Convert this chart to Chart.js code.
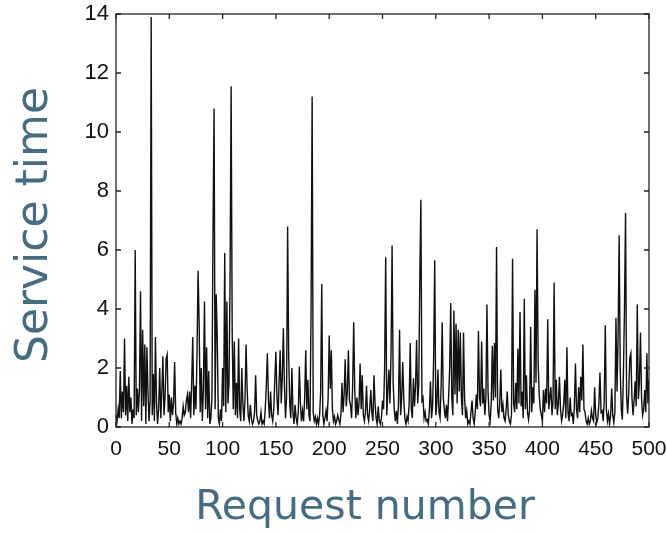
<!DOCTYPE html>
<html>
<head>
<meta charset="utf-8">
<script src="https://cdn.jsdelivr.net/npm/chart.js@4.4.0/dist/chart.umd.min.js"></script>
<style>
html,body{margin:0;padding:0;background:#fff;}
</style>
</head>
<body>
<canvas id="c" width="667" height="533"></canvas>
<script>
// service time per request (request 0..500)
const serviceTimes = [
  0.4,0.2,0.6,0.3,1.9,0.3,1.2,0.5,3.0,0.4, 1.4,0.2,1.7,0.5,1.0,0.1,0.6,0.3,6.0,0.4,
  1.3,0.5,1.3,4.6,0.2,3.3,0.7,2.8,0.1,2.7, 1.2,0.2,0.9,13.9,0.4,1.8,0.2,3.05,0.8,0.1,
  0.6,2.0,0.3,1.2,2.4,0.4,1.0,2.3,2.45,0.5, 1.1,0.2,1.0,0.4,0.8,2.2,0.5,0.1,0.3,0.1,
  0.2,0.1,0.3,0.7,0.4,0.5,0.9,1.1,0.5,1.2, 0.3,1.5,3.05,0.4,1.4,0.6,2.5,5.3,3.5,0.5,
  2.0,0.2,1.3,4.25,0.6,2.7,0.3,1.9,0.1,0.3, 1.0,6.6,10.8,0.6,4.5,3.0,0.3,0.1,0.6,0.2,
  2.0,0.7,5.9,0.5,4.25,0.8,1.5,5.0,11.55,3.2, 0.6,2.9,0.4,1.5,0.3,3.0,0.6,0.2,2.0,0.8,
  0.2,0.9,2.8,1.3,0.4,0.2,0.75,0.3,0.1,0.2, 0.5,1.75,0.4,0.2,0.1,0.2,0.5,0.1,0.2,0.1,
  0.6,1.4,2.5,0.9,0.3,1.2,0.4,0.2,0.6,1.6, 2.55,1.0,0.4,1.5,2.6,0.8,1.7,3.35,1.4,0.3,
  1.0,6.8,2.4,0.8,0.3,2.0,0.5,0.1,0.75,0.3, 0.1,0.5,2.05,0.8,0.2,0.55,0.2,1.0,2.6,0.6,
  1.6,0.4,0.2,4.0,11.2,0.5,0.2,0.35,0.1,0.3, 0.1,0.4,1.2,4.85,0.4,0.1,0.3,0.55,0.2,1.0,
  3.1,1.3,2.6,0.6,0.2,0.35,0.1,0.2,0.4,0.25, 0.1,0.4,1.5,0.5,1.1,2.3,0.7,1.2,2.6,0.9,
  0.75,0.3,1.4,3.55,1.2,0.3,1.0,0.4,0.8,2.15, 0.6,1.75,0.4,0.2,0.5,1.4,0.4,0.2,0.6,1.25,
  0.5,0.2,1.75,0.8,0.3,0.1,0.7,0.2,0.1,0.3, 0.9,0.6,2.0,5.75,0.4,1.2,1.95,0.8,2.5,6.15,
  1.5,0.6,0.2,0.55,0.1,0.8,3.3,0.4,1.0,2.2, 0.9,0.3,0.1,0.35,0.2,0.8,2.85,0.6,0.3,1.65,
  0.7,1.4,2.95,0.8,1.4,5.0,7.7,0.9,1.0,0.3, 0.5,0.2,0.25,0.1,0.6,1.55,0.3,0.7,2.4,5.65,
  0.4,0.8,1.95,0.5,0.3,1.4,3.55,1.0,0.6,0.3, 0.75,0.2,1.0,2.0,4.2,1.0,0.4,3.95,1.1,3.5,
  0.8,3.3,1.2,3.2,1.0,0.4,3.2,1.0,0.3,0.55, 0.1,0.2,0.1,0.5,0.9,0.3,0.1,0.5,1.1,0.6,
  3.25,1.0,0.7,2.9,0.8,1.3,0.4,1.0,4.15,1.2, 0.4,0.2,0.8,2.75,0.9,2.85,1.0,6.1,0.6,0.3,
  0.8,1.95,0.5,0.75,0.3,0.2,0.6,1.2,0.4,0.2, 0.1,0.4,5.7,0.8,0.5,1.5,0.6,2.65,0.8,3.9,
  0.7,1.2,0.3,4.35,0.6,1.75,0.5,0.25,0.6,3.4, 0.5,1.35,0.8,4.65,1.5,6.7,2.2,1.1,0.6,0.4,
  0.2,1.25,0.5,1.3,0.8,3.65,0.6,1.0,1.35,0.4, 0.9,4.9,0.6,1.6,0.4,0.8,1.7,0.6,0.2,0.4,
  0.8,1.6,0.3,2.7,0.5,0.2,1.0,0.4,0.45,0.1, 0.7,2.15,0.6,0.3,1.35,0.5,1.7,0.9,2.8,0.6,
  0.5,0.2,0.1,0.3,0.1,0.2,0.55,0.3,0.2,1.35, 0.4,0.15,0.3,0.8,1.85,0.5,0.55,0.2,0.9,3.45,
  0.6,0.2,0.45,0.1,0.4,1.3,0.4,0.15,0.5,3.7, 1.2,3.0,6.5,2.0,0.6,0.25,1.8,4.0,7.25,1.0,
  0.45,1.2,2.35,2.5,1.0,0.4,0.9,1.55,0.7,4.15, 0.95,1.5,3.2,1.0,0.4,0.6,1.25,0.5,2.5,0.8,
  1.6
];
const requestNumbers = serviceTimes.map((v, i) => i);
const xTicks = [0, 50, 100, 150, 200, 250, 300, 350, 400, 450, 500];
const yTicks = [0, 2, 4, 6, 8, 10, 12, 14];

const titleColor = '#476b80';
const titleFont = '"Comic Sans MS", "DejaVu Sans", sans-serif';

// matlab style box with inward ticks + the big axis captions
const framePlugin = {
  id: 'frame',
  afterDatasetsDraw(chart) {
    const { ctx, chartArea: a, scales: { x, y } } = chart;
    ctx.save();
    ctx.strokeStyle = '#222';
    ctx.lineWidth = 1.3;
    ctx.strokeRect(a.left, a.top, a.right - a.left, a.bottom - a.top);
    ctx.beginPath();
    xTicks.forEach(v => {
      const px = x.getPixelForValue(v);
      ctx.moveTo(px, a.bottom); ctx.lineTo(px, a.bottom - 5);
      ctx.moveTo(px, a.top); ctx.lineTo(px, a.top + 5);
    });
    yTicks.forEach(v => {
      const py = y.getPixelForValue(v);
      ctx.moveTo(a.left, py); ctx.lineTo(a.left + 5, py);
      ctx.moveTo(a.right, py); ctx.lineTo(a.right - 5, py);
    });
    ctx.stroke();

    ctx.fillStyle = titleColor;
    ctx.textAlign = 'center';
    ctx.textBaseline = 'middle';
    ctx.font = '41px ' + titleFont;
    ctx.fillText('Request number', 365, 508);
    ctx.translate(36, 225);
    ctx.rotate(-Math.PI / 2);
    ctx.font = '44px ' + titleFont;
    ctx.fillText('Service time', 0, 0);
    ctx.restore();
  }
};

new Chart(document.getElementById('c').getContext('2d'), {
  type: 'line',
  data: {
    labels: requestNumbers,
    datasets: [{
      data: requestNumbers.map((n, i) => ({ x: n, y: serviceTimes[i] })),
      borderColor: '#111',
      borderWidth: 1.4,
      pointRadius: 0,
      tension: 0,
      fill: false
    }]
  },
  options: {
    responsive: false,
    animation: false,
    layout: { padding: { top: 14, right: 18, left: 0, bottom: 0 } },
    plugins: { legend: { display: false }, tooltip: { enabled: false } },
    scales: {
      x: {
        type: 'linear', min: 0, max: 500,
        grid: { display: false, drawTicks: false },
        border: { display: false },
        afterBuildTicks: s => { s.ticks = xTicks.map(v => ({ value: v })); },
        ticks: { color: '#111', font: { family: 'Liberation Sans', size: 21 }, padding: 10, maxRotation: 0 },
        afterFit: s => { s.height = 106; s.paddingLeft = 0; s.paddingRight = 0; }
      },
      y: {
        min: 0, max: 14,
        grid: { display: false, drawTicks: false },
        border: { display: false },
        afterBuildTicks: s => { s.ticks = yTicks.map(v => ({ value: v })); },
        ticks: { color: '#111', font: { family: 'Liberation Sans', size: 22 }, padding: 7 },
        afterFit: s => { s.width = 116; s.paddingTop = 0; s.paddingBottom = 0; }
      }
    }
  },
  plugins: [framePlugin]
});
</script>
</body>
</html>
